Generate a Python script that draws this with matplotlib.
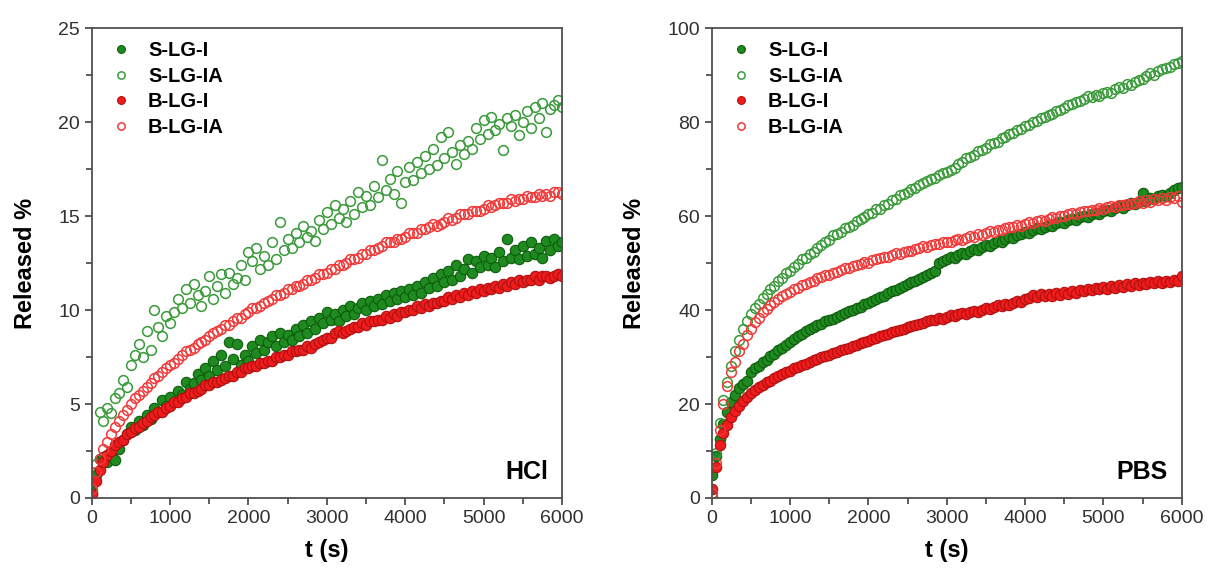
import numpy as np
import matplotlib
matplotlib.use('Agg')
from matplotlib import pyplot as plt

plt.rcParams['font.family'] = ['Liberation Sans', 'DejaVu Sans']

# sampling times [s], one reading every 50 s
t = np.arange(0, 6001, 50)

# ---- HCl ----
hcl_s_lg_i = [0.3, 1.2, 2.1, 2.2, 1.9, 2.3, 2.0, 2.6, 3.1, 3.4,
              3.8, 3.6, 4.1, 3.9, 4.4, 4.2, 4.8, 4.6, 5.2, 4.9,
              5.4, 5.1, 5.7, 5.5, 6.2, 5.8, 6.1, 6.6, 6.3, 6.9,
              6.5, 7.3, 6.8, 7.6, 7.0, 8.3, 7.4, 8.2, 7.1, 7.6,
              7.3, 8.1, 7.7, 8.4, 7.9, 8.3, 8.6, 8.1, 8.8, 8.3,
              8.7, 8.4, 9.0, 8.6, 9.2, 8.8, 9.4, 9.0, 9.6, 9.3,
              9.9, 9.5, 9.8, 9.4, 10.0, 9.7, 10.2, 9.8, 10.1, 10.4,
              10.0, 10.5, 10.2, 10.6, 10.3, 10.8, 10.5, 10.9, 10.6, 11.0,
              10.7, 11.1, 10.8, 11.3, 10.9, 11.5, 11.2, 11.7, 11.3, 11.9,
              11.5, 12.1, 11.6, 12.4, 11.8, 12.2, 12.7, 12.0, 12.6, 12.3,
              12.9, 12.4, 12.8, 12.3, 13.1, 12.6, 13.8, 12.8, 13.2, 12.7,
              13.4, 12.9, 13.6, 13.0, 13.3, 12.8, 13.7, 13.2, 13.8, 13.4,
              13.6]
hcl_s_lg_ia = [0.4, 1.8, 4.6, 4.1, 4.8, 4.5, 5.3, 5.6, 6.3, 5.9,
               7.1, 7.6, 8.2, 7.5, 8.9, 7.9, 10.0, 9.1, 8.6, 9.7,
               9.3, 9.9, 10.6, 10.1, 11.1, 10.4, 11.4, 10.8, 10.2, 11.0,
               11.8, 10.6, 11.3, 11.9, 10.9, 12.0, 11.4, 11.7, 12.4, 11.6,
               13.1, 12.6, 13.3, 12.2, 12.9, 12.4, 13.6, 12.7, 14.7, 13.2,
               13.8, 13.3, 14.1, 13.6, 14.5, 13.9, 14.2, 13.7, 14.8, 14.3,
               15.2, 14.6, 15.6, 14.9, 15.4, 14.7, 15.8, 15.1, 16.3, 15.5,
               16.1, 15.6, 16.6, 16.0, 18.0, 16.4, 17.0, 16.2, 17.4, 15.7,
               16.8, 17.6, 16.9, 17.9, 17.3, 18.2, 17.5, 18.6, 17.7, 19.2,
               18.1, 19.5, 18.4, 17.8, 18.8, 18.3, 19.0, 18.6, 19.7, 19.1,
               20.1, 19.4, 20.3, 19.6, 19.9, 18.5, 20.2, 19.8, 20.4, 19.3,
               20.0, 20.6, 19.7, 20.8, 20.2, 21.0, 19.5, 20.7, 20.9, 21.2,
               20.8]
hcl_b_lg_i = [0.2, 0.9, 1.5, 1.9, 2.3, 2.5, 2.8, 3.0, 3.1, 3.4,
              3.5, 3.7, 3.8, 4.0, 4.1, 4.3, 4.4, 4.6, 4.6, 4.8,
              4.9, 5.1, 5.1, 5.3, 5.4, 5.6, 5.6, 5.7, 5.8, 6.0,
              6.0, 6.2, 6.2, 6.3, 6.4, 6.5, 6.5, 6.7, 6.7, 6.9,
              6.9, 7.0, 7.0, 7.2, 7.2, 7.3, 7.3, 7.5, 7.5, 7.6,
              7.6, 7.8, 7.8, 7.9, 7.9, 8.1, 8.0, 8.2, 8.3, 8.4,
              8.5, 8.5, 8.8, 8.9, 8.8, 8.9, 9.0, 9.1, 9.1, 9.3,
              9.2, 9.4, 9.4, 9.5, 9.5, 9.7, 9.6, 9.8, 9.7, 9.9,
              9.9, 10.0, 10.0, 10.2, 10.1, 10.3, 10.2, 10.4, 10.4, 10.5,
              10.5, 10.7, 10.6, 10.8, 10.7, 10.9, 10.8, 11.0, 10.9, 11.1,
              11.0, 11.2, 11.1, 11.3, 11.2, 11.4, 11.3, 11.5, 11.4, 11.6,
              11.5, 11.6, 11.6, 11.8, 11.6, 11.8, 11.8, 11.7, 11.8, 11.9,
              11.8]
hcl_b_lg_ia = [0.5, 1.4, 2.1, 2.6, 3.0, 3.4, 3.8, 4.1, 4.4, 4.7,
               5.0, 5.3, 5.5, 5.7, 5.9, 6.1, 6.4, 6.5, 6.7, 6.9,
               7.1, 7.2, 7.4, 7.6, 7.8, 7.9, 8.0, 8.2, 8.3, 8.4,
               8.6, 8.8, 8.9, 9.0, 9.2, 9.2, 9.4, 9.6, 9.6, 9.8,
               9.9, 10.1, 10.1, 10.2, 10.4, 10.5, 10.6, 10.8, 10.8, 10.9,
               11.1, 11.1, 11.3, 11.3, 11.4, 11.6, 11.6, 11.7, 11.9, 11.9,
               12.0, 12.2, 12.2, 12.4, 12.4, 12.5, 12.7, 12.7, 12.8, 13.0,
               13.0, 13.2, 13.2, 13.3, 13.4, 13.6, 13.6, 13.6, 13.8, 13.8,
               13.9, 14.1, 14.1, 14.1, 14.3, 14.3, 14.4, 14.6, 14.5, 14.6,
               14.7, 14.9, 14.8, 14.9, 15.1, 15.1, 15.1, 15.3, 15.3, 15.3,
               15.4, 15.6, 15.5, 15.6, 15.7, 15.7, 15.7, 15.9, 15.8, 15.9,
               15.9, 16.1, 16.0, 16.0, 16.2, 16.1, 16.2, 16.1, 16.3, 16.3,
               16.2]

# ---- PBS ----
pbs_s_lg_i = [4.8, 9.0, 12.5, 15.8, 18.3, 20.4, 22.0, 23.4, 24.2, 25.0,
              26.8, 27.6, 28.1, 28.9, 29.4, 30.2, 30.6, 31.5, 32.0, 32.6,
              33.2, 33.8, 34.5, 35.0, 35.6, 35.9, 36.5, 36.8, 37.0, 37.6,
              37.9, 38.1, 38.6, 38.9, 39.3, 39.8, 40.0, 40.5, 40.7, 41.2,
              41.5, 42.0, 42.4, 42.8, 43.1, 43.6, 44.0, 44.3, 44.8, 45.1,
              45.5, 45.9, 46.2, 46.7, 47.0, 47.4, 47.9, 48.3, 50.0, 50.5,
              50.8, 51.3, 51.0, 51.7, 52.2, 52.0, 52.6, 53.1, 52.8, 53.4,
              53.9, 53.6, 54.3, 54.8, 54.6, 55.2, 55.6, 55.4, 56.0, 56.3,
              56.7, 56.5, 57.1, 57.4, 57.3, 57.8, 58.2, 58.0, 58.5, 58.8,
              58.6, 59.1, 59.4, 59.2, 59.8, 60.1, 59.9, 60.4, 60.7, 60.5,
              61.0, 61.4, 61.2, 61.7, 62.1, 61.8, 62.4, 62.8, 62.5, 63.1,
              65.0, 63.3, 63.8, 63.6, 64.2, 64.6, 64.4, 65.0, 65.6, 65.9,
              66.2]
pbs_s_lg_ia = [0.5, 9.5, 16.0, 20.8, 24.6, 28.0, 31.2, 33.6, 35.9, 37.6,
               39.1, 40.5, 41.2, 42.6, 43.4, 44.5, 45.2, 46.1, 46.8, 47.9,
               48.3, 49.2, 49.8, 50.9, 51.2, 52.0, 52.4, 53.3, 53.8, 54.6,
               55.0, 55.9, 56.2, 56.6, 57.4, 57.8, 58.2, 58.9, 59.3, 59.8,
               60.4, 60.7, 61.5, 61.6, 62.4, 62.6, 63.5, 63.7, 64.6, 64.8,
               65.1, 65.8, 66.0, 66.7, 67.0, 67.4, 67.9, 68.2, 68.8, 69.1,
               69.4, 69.9, 70.3, 71.2, 71.5, 72.4, 72.6, 73.0, 73.8, 74.1,
               74.6, 75.3, 75.5, 75.9, 76.6, 76.8, 77.4, 77.8, 78.3, 78.6,
               79.2, 79.4, 80.0, 80.3, 80.9, 81.1, 81.6, 81.8, 82.5, 82.7,
               83.0, 83.6, 83.8, 84.4, 84.6, 84.9, 85.5, 85.3, 85.9, 85.6,
               86.2, 86.5, 86.3, 87.1, 87.6, 87.3, 88.2, 88.0, 88.6, 89.1,
               89.3, 89.8, 90.4, 90.1, 90.9, 91.3, 91.6, 91.8, 92.4, 92.7,
               93.0]
pbs_b_lg_i = [2.0, 6.5, 11.2, 13.8, 15.6, 17.3, 18.6, 19.5, 20.6, 21.5,
              22.3, 23.0, 23.6, 24.1, 24.7, 25.0, 25.6, 25.9, 26.4, 26.8,
              27.1, 27.6, 27.9, 28.4, 28.6, 29.0, 29.3, 29.6, 30.0, 30.2,
              30.5, 30.9, 31.0, 31.5, 31.8, 32.0, 32.4, 32.6, 33.0, 33.3,
              33.5, 33.9, 34.1, 34.4, 34.7, 34.9, 35.3, 35.5, 35.8, 36.0,
              36.3, 36.6, 36.8, 37.1, 37.3, 37.6, 37.8, 38.0, 38.3, 38.2,
              38.6, 38.9, 38.7, 39.1, 39.4, 39.2, 39.6, 39.9, 39.7, 40.1,
              40.4, 40.2, 40.7, 41.0, 40.8, 41.3, 41.1, 41.6, 41.9, 41.7,
              42.3, 42.6, 43.2, 42.8, 43.5, 43.1, 43.4, 43.0, 43.6, 43.3,
              43.8, 43.5, 44.0, 43.7, 44.2, 44.0, 44.5, 44.2, 44.7, 44.4,
              44.9, 44.6, 45.1, 44.8, 45.3, 45.0, 45.5, 45.2, 45.7, 45.4,
              45.8, 45.5, 46.0, 45.7, 46.1, 45.8, 46.3, 46.0, 46.5, 46.2,
              47.2]
pbs_b_lg_ia = [1.0, 7.5, 14.5, 20.0, 23.8, 26.8, 29.0, 31.2, 32.8, 34.6,
               36.0, 37.4, 38.3, 39.5, 40.3, 41.0, 41.8, 42.3, 43.1, 43.4,
               43.9, 44.5, 44.7, 45.3, 45.5, 46.0, 46.2, 46.8, 47.0, 47.5,
               47.4, 47.9, 48.2, 48.5, 48.9, 49.0, 49.4, 49.6, 49.9, 50.3,
               50.1, 50.6, 50.9, 51.0, 51.4, 51.3, 51.7, 52.1, 52.0, 52.4,
               52.6, 52.5, 53.0, 53.2, 53.6, 53.4, 53.9, 54.1, 54.0, 54.4,
               54.6, 54.5, 54.9, 55.2, 55.0, 55.4, 55.7, 55.6, 56.1, 56.0,
               56.4, 56.8, 56.7, 57.1, 57.0, 57.4, 57.8, 57.6, 58.1, 58.0,
               58.4, 58.7, 58.6, 59.0, 59.2, 59.0, 59.5, 59.8, 59.6, 60.1,
               60.0, 60.4, 60.7, 60.5, 60.9, 61.2, 61.0, 61.4, 61.3, 61.7,
               61.5, 61.9, 62.2, 62.0, 62.4, 62.3, 62.7, 62.5, 62.9, 63.2,
               62.8, 63.4, 63.1, 63.6, 63.4, 63.9, 63.5, 64.1, 63.8, 64.3,
               63.0]

labels = ['S-LG-I', 'S-LG-IA', 'B-LG-I', 'B-LG-IA']
green = '#1f8a1f'
red = '#ee1c1c'


def draw(ax, series, name, ymax, ystep):
    s_i, s_ia, b_i, b_ia = series
    ax.plot(t, s_i, 'o', ms=7.5, mfc=green, mec='#0d5c0d', mew=0.8, label=labels[0])
    ax.plot(t, s_ia, 'o', ms=7, mfc='none', mec='#3a9a3a', mew=1.1, label=labels[1])
    ax.plot(t, b_i, 'o', ms=7.5, mfc=red, mec='#b01010', mew=0.8, label=labels[2])
    ax.plot(t, b_ia, 'o', ms=7, mfc='none', mec='#f03a3a', mew=1.1, label=labels[3])

    ax.set_xlim(0, 6000)
    ax.set_ylim(0, ymax)
    ax.set_xticks(np.arange(0, 6001, 1000))
    ax.set_xticks(np.arange(0, 6001, 500), minor=True)
    ax.set_yticks(np.arange(0, ymax + 0.1, ystep))
    ax.set_yticks(np.arange(0, ymax + 0.1, ystep / 2), minor=True)
    ax.tick_params(which='both', direction='out', labelsize=14, colors='#303030',
                   top=False, right=False, width=1.1)
    ax.tick_params(which='major', length=5)
    ax.tick_params(which='minor', length=4)
    for sp in ax.spines.values():
        sp.set_color('#505050')
        sp.set_linewidth(1.3)

    ax.set_xlabel('t (s)', fontsize=17, fontweight='bold', labelpad=9)
    ax.set_ylabel('Released %', fontsize=17, fontweight='bold', labelpad=15)
    ax.text(0.97, 0.03, name, transform=ax.transAxes, ha='right', va='bottom',
            fontsize=18, fontweight='bold')
    ax.legend(loc='upper left', frameon=False, prop={'size': 14.5, 'weight': 'bold'},
              handletextpad=0.55, labelspacing=0.32, borderaxespad=0.25,
              handlelength=1.6, markerscale=0.75)


fig = plt.figure(figsize=(12.1, 5.72), dpi=100)
ax1 = fig.add_axes([0.0758, 0.1294, 0.3887, 0.8211])
ax2 = fig.add_axes([0.5882, 0.1294, 0.3884, 0.8211])

draw(ax1, (hcl_s_lg_i, hcl_s_lg_ia, hcl_b_lg_i, hcl_b_lg_ia), 'HCl', 25, 5)
draw(ax2, (pbs_s_lg_i, pbs_s_lg_ia, pbs_b_lg_i, pbs_b_lg_ia), 'PBS', 100, 20)

plt.savefig('out.png', dpi=100)
